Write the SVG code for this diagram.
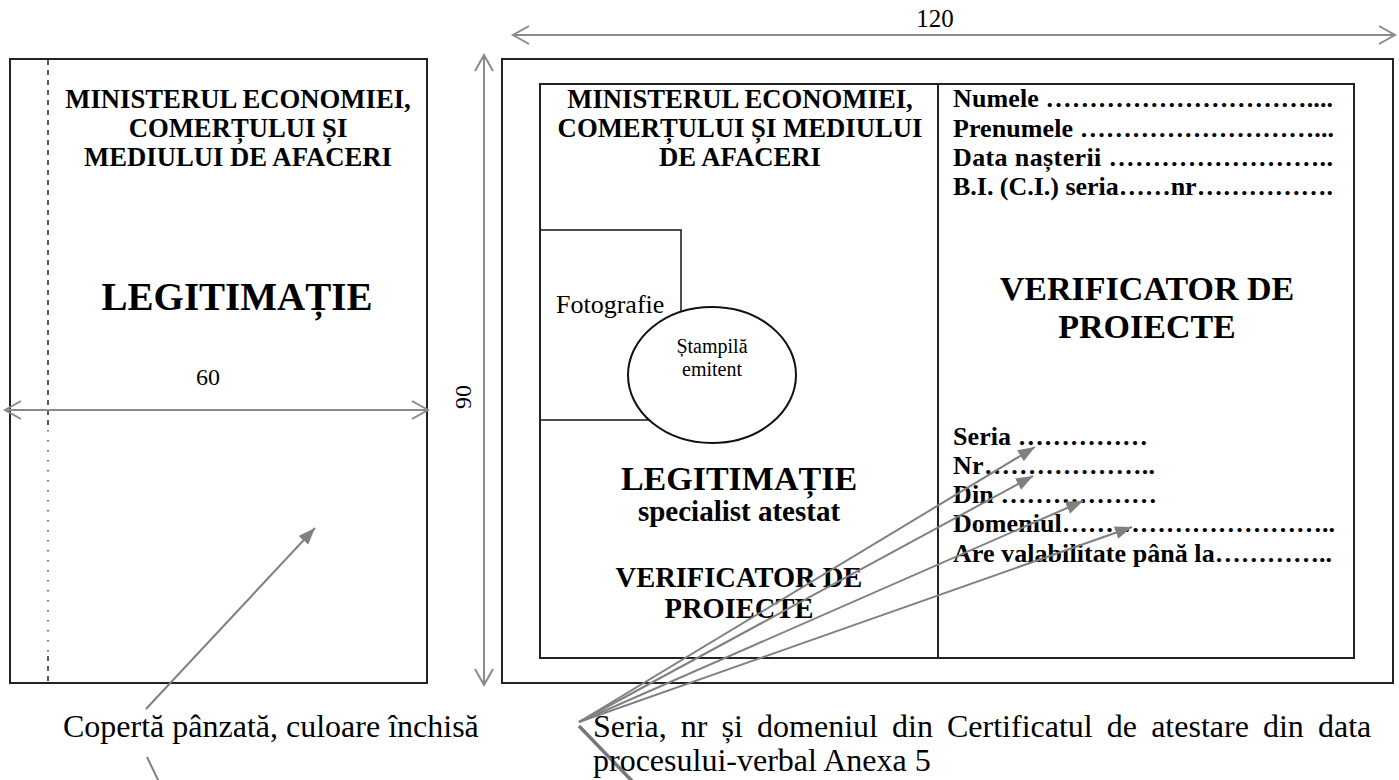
<svg xmlns="http://www.w3.org/2000/svg" width="1399" height="780" viewBox="0 0 1399 780">
<defs>
<style>
.box{fill:none;stroke:#222;stroke-width:2}
.thin{fill:none;stroke:#222;stroke-width:1.6}
.b{font-family:"Liberation Serif","Times New Roman",serif;font-weight:bold;fill:#000}
.r{font-family:"Liberation Serif","Times New Roman",serif;fill:#000}
.dim{fill:none;stroke:#8a8a8a;stroke-width:2}
.lead{fill:none;stroke:#808080;stroke-width:2}
.mid{text-anchor:middle}
</style>
<marker id="open" markerUnits="userSpaceOnUse" markerWidth="22" markerHeight="22" refX="17" refY="10" orient="auto-start-reverse">
<path d="M1,1 L17,10 L1,19" fill="none" stroke="#8a8a8a" stroke-width="2"/>
</marker>
<marker id="tri" markerUnits="userSpaceOnUse" markerWidth="20" markerHeight="14" refX="17" refY="6.5" orient="auto">
<path d="M0,0 L17,6.5 L0,13 z" fill="#808080"/>
</marker>
</defs>
<rect width="1399" height="780" fill="#fff"/>

<g id="cover">
<rect class="box" x="10" y="59" width="417" height="624"/>
<line x1="48" y1="60" x2="48" y2="425" stroke="#222" stroke-width="1.5" stroke-dasharray="5 5"/>
<line x1="48" y1="430" x2="48" y2="652" stroke="#444" stroke-width="1.5" stroke-dasharray="1.5 8.5"/>
<line x1="48" y1="656" x2="48" y2="682" stroke="#222" stroke-width="1.5" stroke-dasharray="5 5"/>
<text class="b mid" font-size="26.7" x="238" y="108">MINISTERUL ECONOMIEI,</text>
<text class="b mid" font-size="26.7" x="238" y="137">COMERȚULUI ȘI</text>
<text class="b mid" font-size="26.7" x="238" y="166">MEDIULUI DE AFACERI</text>
<text class="b mid" font-size="39" x="237" y="310">LEGITIMAȚIE</text>
</g>

<g id="card">
<rect class="box" x="502" y="59" width="891" height="624"/>
<rect class="box" x="540" y="84" width="814" height="574"/>
<line class="box" x1="938" y1="84" x2="938" y2="658"/>
</g>

<g id="card-left">
<text class="b mid" font-size="26.7" x="740" y="108">MINISTERUL ECONOMIEI,</text>
<text class="b mid" font-size="26.7" x="740" y="137">COMERȚULUI ȘI MEDIULUI</text>
<text class="b mid" font-size="26.7" x="740" y="166">DE AFACERI</text>
<text class="b mid" font-size="34" x="739" y="490">LEGITIMAȚIE</text>
<text class="b mid" font-size="29" x="739" y="521">specialist atestat</text>
<text class="b mid" font-size="28.5" x="739" y="587">VERIFICATOR DE</text>
<text class="b mid" font-size="28.5" x="739" y="618">PROIECTE</text>
</g>

<g id="photo">
<rect class="thin" x="540" y="230" width="141" height="190"/>
<text class="r" font-size="26" x="556" y="313">Fotografie</text>
</g>

<g id="stamp">
<ellipse cx="712" cy="375" rx="84" ry="68" fill="#fff" stroke="#111" stroke-width="2"/>
<text class="r mid" font-size="20" x="712" y="353">Ștampilă</text>
<text class="r mid" font-size="20" x="712" y="376">emitent</text>
</g>

<g id="card-right">
<text class="b" font-size="26" x="953" y="107" textLength="380" lengthAdjust="spacing">Numele …………………………....</text>
<text class="b" font-size="26" x="953" y="137" textLength="381" lengthAdjust="spacing">Prenumele ………………………...</text>
<text class="b" font-size="26" x="953" y="166" textLength="380" lengthAdjust="spacing">Data nașterii  ……………………..</text>
<text class="b" font-size="26" x="953" y="195" textLength="380" lengthAdjust="spacing">B.I. (C.I.) seria……nr…………….</text>
<text class="b mid" font-size="34" x="1147" y="300">VERIFICATOR DE</text>
<text class="b mid" font-size="34" x="1147" y="338">PROIECTE</text>
<text class="b" font-size="26" x="953" y="445" textLength="195" lengthAdjust="spacing">Seria ……………</text>
<text class="b" font-size="26" x="953" y="474" textLength="202" lengthAdjust="spacing">Nr………………..</text>
<text class="b" font-size="26" x="953" y="503" textLength="204" lengthAdjust="spacing">Din ………………</text>
<text class="b" font-size="26" x="953" y="532" textLength="382" lengthAdjust="spacing">Domeniul…………………………..</text>
<text class="b" font-size="26" x="953" y="562" textLength="379" lengthAdjust="spacing">Are valabilitate până la…………..</text>
</g>

<g id="dimensions">
<line class="dim" x1="5" y1="410" x2="428" y2="410" marker-start="url(#open)" marker-end="url(#open)"/>
<text class="r mid" font-size="24" x="208" y="385">60</text>
<line class="dim" x1="484" y1="55" x2="484" y2="685" marker-start="url(#open)" marker-end="url(#open)"/>
<text class="r mid" font-size="24" transform="translate(471,397) rotate(-90)">90</text>
<line class="dim" x1="513" y1="35" x2="1395" y2="35" marker-start="url(#open)" marker-end="url(#open)"/>
<text class="r mid" font-size="25" x="935" y="27">120</text>
</g>

<g id="connectors">
<line class="lead" x1="146" y1="709" x2="315" y2="528" marker-end="url(#tri)"/>
<line class="lead" x1="147" y1="757" x2="159" y2="782"/>
<line class="lead" x1="579" y1="722" x2="1035" y2="447" marker-end="url(#tri)"/>
<line class="lead" x1="579" y1="722" x2="1033" y2="476" marker-end="url(#tri)"/>
<line class="lead" x1="579" y1="722" x2="1083" y2="501" marker-end="url(#tri)"/>
<line class="lead" x1="579" y1="722" x2="1132" y2="527" marker-end="url(#tri)"/>
<line x1="579" y1="726" x2="633" y2="782" stroke="#777" stroke-width="3.5"/>
</g>

<g id="notes">
<text class="r" font-size="32" x="63" y="737">Copertă pânzată, culoare închisă</text>
<text class="r" font-size="32" x="593" y="737" word-spacing="6.1">Seria, nr și domeniul din Certificatul de atestare din data</text>
<text class="r" font-size="32" x="593" y="771">procesului-verbal Anexa 5</text>
</g>
</svg>
